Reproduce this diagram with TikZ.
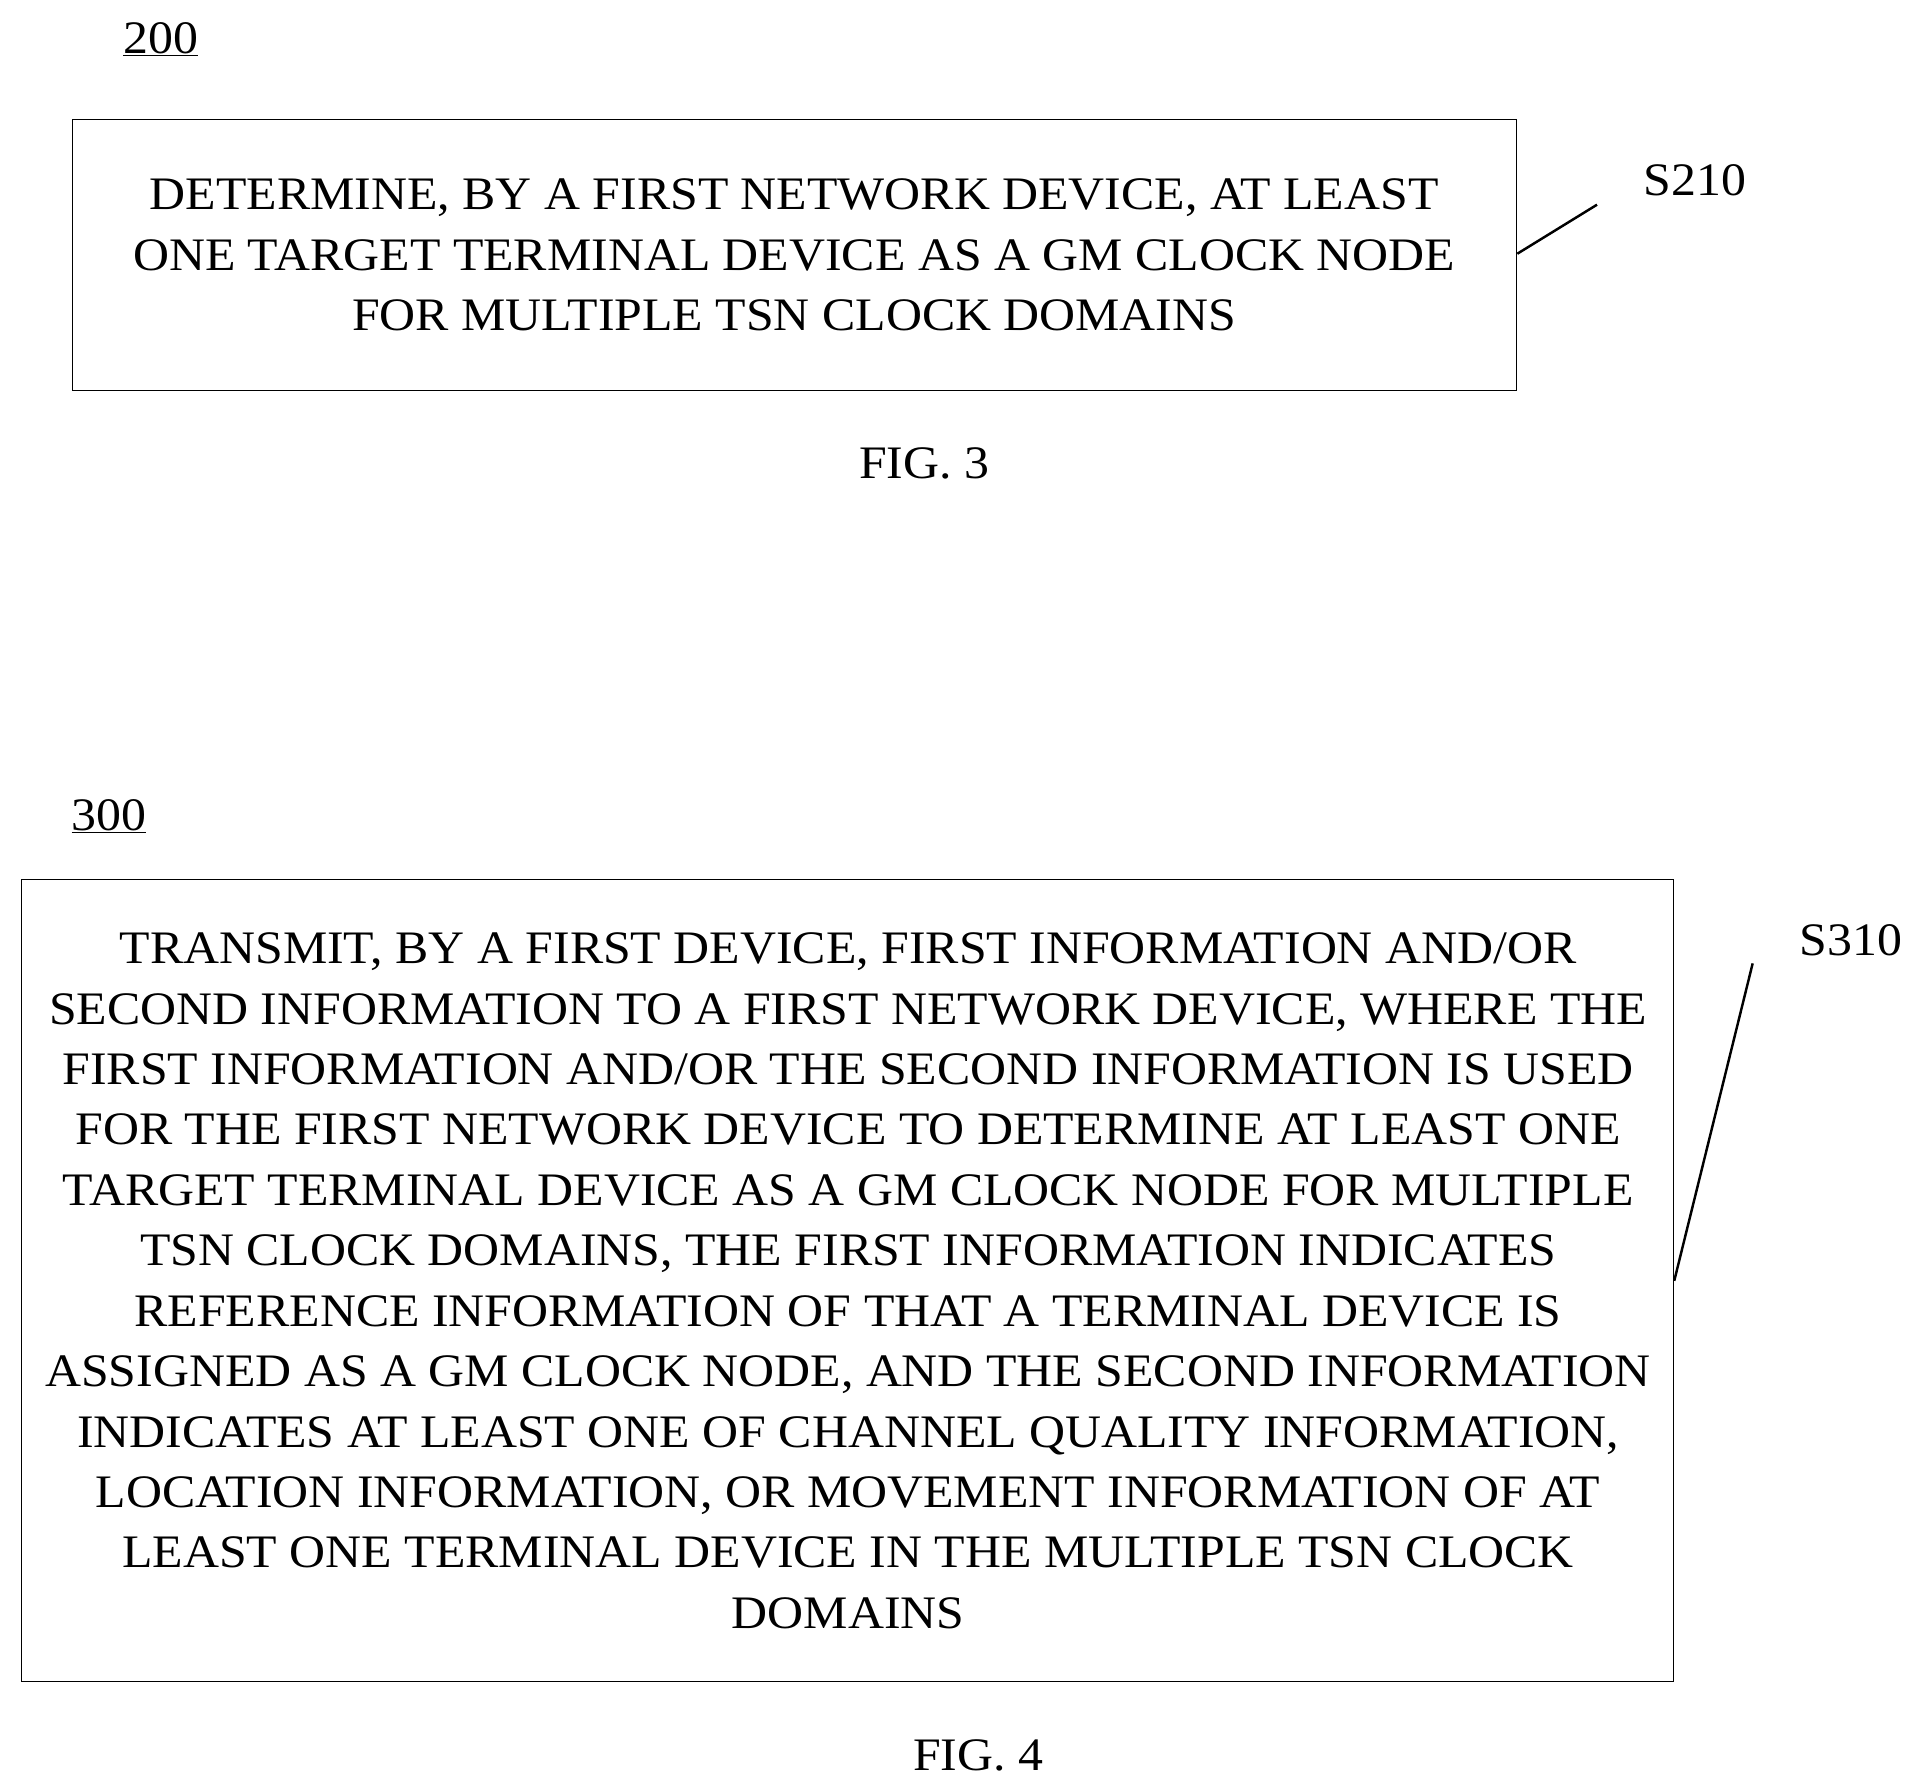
\documentclass[tikz,border=0pt]{standalone}
\usepackage{fontspec}
\setmainfont{Liberation Serif}[FakeStretch=1.07]
\tikzset{stepbox/.style = {inner sep=0pt,align=center,font=\fontsize{38}{49.3}\selectfont}}
\tikzset{lbl/.style = {font=\fontsize{38}{44}\selectfont}}
\tikzset{lead/.style = {line width=2pt}}
\begin{document}
\begin{tikzpicture}[x=1pt,y=-1pt]
\useasboundingbox (0,0) rectangle (1560,1455);

\node[lbl] (n200) at (131,32) {\underline{200}};
\draw (59,97) rectangle (1237,318);
\node[stepbox] (s210) at (648,208) {DETERMINE, BY A FIRST NETWORK DEVICE, AT LEAST\\ONE TARGET TERMINAL DEVICE AS A GM CLOCK NODE\\FOR MULTIPLE TSN CLOCK DOMAINS};
\coordinate (b1) at (1238,207);
\node[lbl] (l210) at (1383,147) {S210};
\coordinate (t1) at (1303,167);
\draw[lead] (b1) -- (t1);
\node[lbl] (fig3) at (754,378) {FIG. 3};

\node[lbl] (n300) at (89,666) {\underline{300}};
\draw (17,717) rectangle (1365,1372);
\node[stepbox] (s310) at (692,1045) {TRANSMIT, BY A FIRST DEVICE, FIRST INFORMATION AND/OR\\SECOND INFORMATION TO A FIRST NETWORK DEVICE, WHERE THE\\FIRST INFORMATION AND/OR THE SECOND INFORMATION IS USED\\FOR THE FIRST NETWORK DEVICE TO DETERMINE AT LEAST ONE\\TARGET TERMINAL DEVICE AS A GM CLOCK NODE FOR MULTIPLE\\TSN CLOCK DOMAINS, THE FIRST INFORMATION INDICATES\\REFERENCE INFORMATION OF THAT A TERMINAL DEVICE IS\\ASSIGNED AS A GM CLOCK NODE, AND THE SECOND INFORMATION\\INDICATES AT LEAST ONE OF CHANNEL QUALITY INFORMATION,\\LOCATION INFORMATION, OR MOVEMENT INFORMATION OF AT\\LEAST ONE TERMINAL DEVICE IN THE MULTIPLE TSN CLOCK\\DOMAINS};
\coordinate (b2) at (1366,1045);
\node[lbl] (l310) at (1510,767) {S310};
\coordinate (t2) at (1430,786);
\draw[lead] (b2) -- (t2);
\node[lbl] (fig4) at (798,1432) {FIG. 4};

\end{tikzpicture}
\end{document}
